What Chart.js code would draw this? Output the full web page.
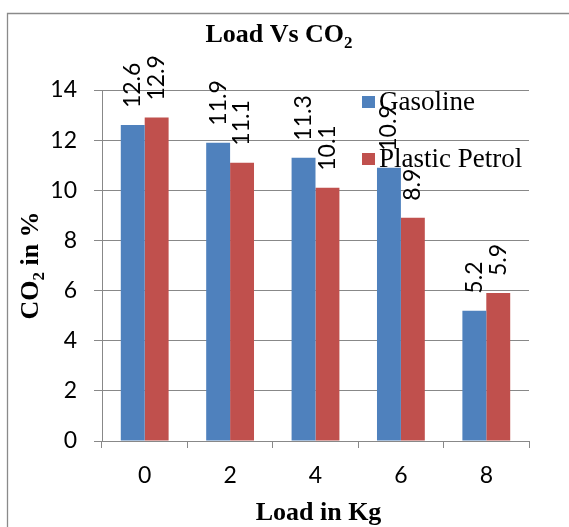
<!DOCTYPE html>
<html>
<head>
<meta charset="utf-8">
<script src="https://cdn.jsdelivr.net/npm/chart.js@4.4.0/dist/chart.umd.min.js"></script>
<style>
  html, body { margin: 0; padding: 0; background: #fff; overflow: hidden; }
  #wrap { width: 569px; height: 527px; position: relative; }
</style>
</head>
<body>
<div id="wrap"><canvas id="co2" width="569" height="527"></canvas></div>
<script>
// loads (kg) and CO2 readings (%)
const categories = ['0', '2', '4', '6', '8'];
const gasoline = [12.6, 11.9, 11.3, 10.9, 5.2];
const plasticPetrol = [12.9, 11.1, 10.1, 8.9, 5.9];
const seriesNames = ['Gasoline', 'Plastic Petrol'];
const seriesColors = ['#4F81BD', '#C0504D'];
const yMin = 0;
const yMax = 14;
const yStep = 2;

const GRID = '#888888';
const SERIF = '"Liberation Serif", "Times New Roman", serif';
const SANS = 'Lato, "Open Sans", sans-serif';

// draws text pieces one after another, used for the CO2 subscripts
function drawRich(ctx, parts, x, y) {
    let cx = x;
    parts.forEach(p => {
        ctx.font = p.font;
        ctx.fillText(p.text, cx, y + (p.dy || 0));
        cx += ctx.measureText(p.text).width;
    });
}

function richWidth(ctx, parts) {
    let w = 0;
    parts.forEach(p => {
        ctx.font = p.font;
        w += ctx.measureText(p.text).width;
    });
    return w;
}

const framePlugin = {
    id: 'frame',
    beforeDraw(chart) {
        const ctx = chart.ctx;
        ctx.save();
        ctx.strokeStyle = '#8a8a8a';
        ctx.lineWidth = 1.3;
        ctx.beginPath();
        ctx.moveTo(7.5, chart.height);
        ctx.lineTo(7.5, 13.5);
        ctx.lineTo(chart.width, 13.5);
        ctx.stroke();
        ctx.restore();
    }
};

// rotated value labels above each bar
const valueLabels = {
    id: 'valueLabels',
    afterDatasetsDraw(chart) {
        const ctx = chart.ctx;
        ctx.save();
        ctx.fillStyle = '#000';
        ctx.font = '23px ' + SANS;
        ctx.textAlign = 'left';
        ctx.textBaseline = 'middle';
        chart.data.datasets.forEach((ds, i) => {
            const meta = chart.getDatasetMeta(i);
            meta.data.forEach((bar, j) => {
                ctx.save();
                ctx.translate(bar.x, bar.y - 17);
                ctx.rotate(-Math.PI / 2);
                ctx.fillText(String(ds.data[j]), 0, 0);
                ctx.restore();
            });
        });
        ctx.restore();
    }
};

const titlesPlugin = {
    id: 'titles',
    afterDraw(chart) {
        const ctx = chart.ctx;
        const area = chart.chartArea;
        const bold = 'bold 26px ' + SERIF;
        const sub = 'bold 17px ' + SERIF;
        ctx.save();
        ctx.fillStyle = '#000';
        ctx.textAlign = 'left';
        ctx.textBaseline = 'alphabetic';

        // chart title
        const title = [{ text: 'Load Vs CO', font: bold }, { text: '2', font: sub, dy: 6 }];
        drawRich(ctx, title, 279 - richWidth(ctx, title) / 2, 42);

        // x axis title
        const xt = [{ text: 'Load in Kg', font: bold }];
        drawRich(ctx, xt, (area.left + area.right) / 2 + 3 - richWidth(ctx, xt) / 2, 520);

        // y axis title
        const yt = [
            { text: 'CO', font: bold },
            { text: '2', font: sub, dy: 6 },
            { text: ' in %', font: bold }
        ];
        ctx.save();
        ctx.translate(38, (area.top + area.bottom) / 2);
        ctx.rotate(-Math.PI / 2);
        drawRich(ctx, yt, -richWidth(ctx, yt) / 2, 0);
        ctx.restore();

        // legend
        ctx.font = '27px ' + SERIF;
        ctx.textBaseline = 'alphabetic';
        chart.data.datasets.forEach((ds, i) => {
            const top = 96 + i * 57;
            ctx.fillStyle = ds.backgroundColor;
            ctx.fillRect(362, top, 13, 12);
            ctx.fillStyle = '#000';
            ctx.fillText(ds.label, 379, top + 14);
        });
        ctx.restore();
    }
};

new Chart(document.getElementById('co2'), {
    type: 'bar',
    data: {
        labels: categories,
        datasets: [
            { label: seriesNames[0], data: gasoline, backgroundColor: seriesColors[0] },
            { label: seriesNames[1], data: plasticPetrol, backgroundColor: seriesColors[1] }
        ]
    },
    options: {
        responsive: false,
        animation: false,
        layout: { padding: { top: 90, right: 40, bottom: 26, left: 0 } },
        datasets: { bar: { barPercentage: 1, categoryPercentage: 0.56 } },
        plugins: {
            legend: { display: false },
            title: { display: false },
            tooltip: { enabled: false }
        },
        scales: {
            x: {
                grid: { drawOnChartArea: false, drawTicks: true, tickLength: 7, color: GRID },
                border: { color: GRID },
                ticks: { font: { family: SANS, size: 23 }, color: '#000', padding: 14 },
                afterFit(scale) { scale.height = 60; }
            },
            y: {
                min: yMin,
                max: yMax,
                ticks: { stepSize: yStep, font: { family: SANS, size: 23 }, color: '#000', padding: 17 },
                grid: { color: GRID, tickLength: 8 },
                border: { color: GRID },
                afterFit(scale) { scale.width = 102; }
            }
        }
    },
    plugins: [framePlugin, valueLabels, titlesPlugin]
});
</script>
</body>
</html>
